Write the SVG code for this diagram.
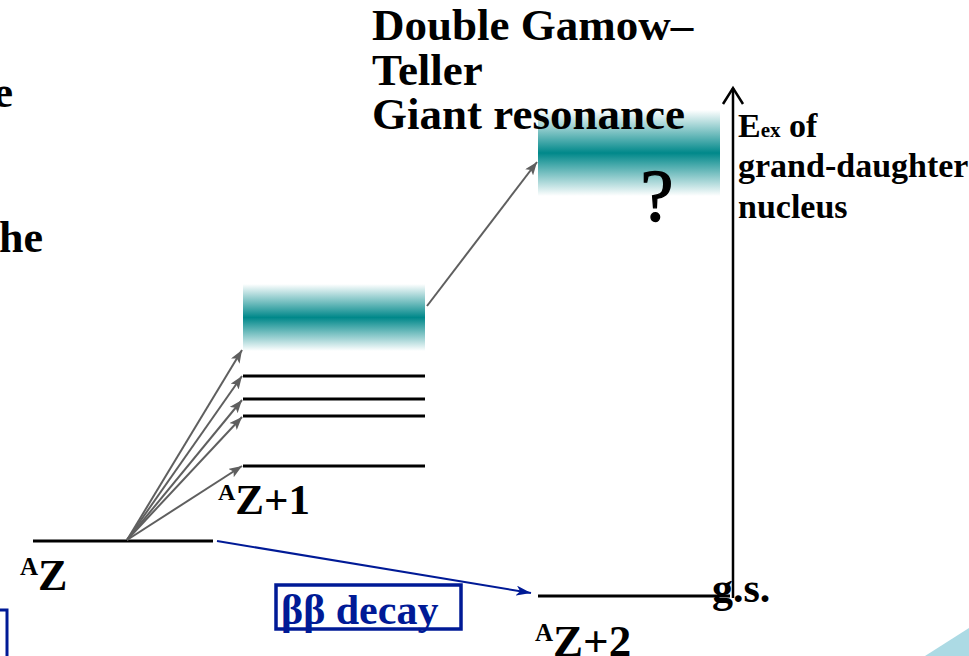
<svg xmlns="http://www.w3.org/2000/svg" width="969" height="656" viewBox="0 0 969 656">
<style>
.t{font-family:"Liberation Serif","Times New Roman",serif;font-weight:bold;fill:#000}
.lv{stroke:#000;stroke-width:3;fill:none}
.g{stroke:#5f5f5f;stroke-width:2;fill:none;marker-end:url(#ga)}
.b{fill:#001a96}
</style>
<defs>
<linearGradient id="band" x1="0" y1="0" x2="0" y2="1">
<stop offset="0" stop-color="#ffffff"/>
<stop offset="0.5" stop-color="#00888a"/>
<stop offset="1" stop-color="#ffffff"/>
</linearGradient>
<marker id="ga" markerUnits="userSpaceOnUse" markerWidth="14" markerHeight="10" refX="13" refY="5" orient="auto">
<path d="M0,0 L13,5 L0,10 L3,5 z" fill="#5f5f5f"/>
</marker>
<marker id="ba" markerUnits="userSpaceOnUse" markerWidth="16" markerHeight="10" refX="15" refY="5" orient="auto">
<path d="M0,0 L15,5 L0,10 L4,5 z" fill="#001a96"/>
</marker>
</defs>
<rect width="969" height="656" fill="#fff"/>
<polygon points="925,656 969,628 969,656" fill="#acdae4"/>
<g id="cut-text">
<text class="t" x="13" y="107" font-size="44" text-anchor="end">e</text>
<text class="t" x="43" y="252" font-size="44" text-anchor="end">he</text>
</g>
<g id="left-box"><rect x="-50" y="610" width="57" height="100" fill="none" stroke="#001a96" stroke-width="3"/></g>
<g id="band-dgt">
<rect x="538" y="110" width="182" height="86" fill="url(#band)"/>
<text x="657" y="221" font-family="Liberation Serif, Times New Roman, serif" font-size="74" text-anchor="middle" fill="#000" stroke="#000" stroke-width="1.3">?</text>
</g>
<g id="title">
<text class="t" font-size="45"><tspan x="372" y="40">Double Gamow–</tspan><tspan x="372" y="85">Teller</tspan><tspan x="372" y="129">Giant resonance</tspan></text>
</g>
<g id="band-gt"><rect x="243" y="284" width="182" height="67" fill="url(#band)"/></g>
<g id="level-AZ1">
<line class="lv" x1="243" y1="376" x2="425" y2="376" stroke-width="2.5"/>
<line class="lv" x1="243" y1="399" x2="425" y2="399" stroke-width="2.5"/>
<line class="lv" x1="243" y1="416" x2="425" y2="416" stroke-width="2.5"/>
<line class="lv" x1="243" y1="466" x2="425" y2="466"/>
<text class="t" x="218" y="514" font-size="43"><tspan font-size="24" dy="-14">A</tspan><tspan dy="14">Z+1</tspan></text>
</g>
<g id="level-AZ">
<line class="lv" x1="33" y1="541" x2="213" y2="541"/>
<text class="t" x="20" y="590" font-size="44"><tspan font-size="25" dy="-15">A</tspan><tspan dy="15">Z</tspan></text>
</g>
<g id="level-AZ2">
<line class="lv" x1="538" y1="596" x2="730" y2="596"/>
<text class="t" x="535" y="656" font-size="45"><tspan font-size="25" dy="-15">A</tspan><tspan dy="15">Z+2</tspan></text>
<text class="t" x="712" y="602" font-size="42">g.s.</text>
</g>
<g id="axis">
<line x1="733" y1="88" x2="733" y2="598" stroke="#000" stroke-width="2.5"/>
<polyline points="723,104 733,88 743,104" fill="none" stroke="#000" stroke-width="2.5"/>
<text class="t" x="738" y="137" font-size="34">E<tspan font-size="21">ex</tspan> of</text>
<text class="t" x="738" y="177" font-size="34">grand-daughter</text>
<text class="t" x="738" y="218" font-size="34">nucleus</text>
</g>
<g id="bb-decay">
<rect x="276" y="585" width="185" height="44" fill="#fff" stroke="#001a96" stroke-width="3.5"/>
<text x="281" y="624" font-family="Liberation Serif, Times New Roman, serif" font-weight="bold" font-size="42" class="b">ββ decay</text>
</g>
<g id="connectors">
<line class="g" x1="127" y1="540" x2="242" y2="350"/>
<line class="g" x1="127" y1="540" x2="242" y2="376"/>
<line class="g" x1="127" y1="540" x2="242" y2="400"/>
<line class="g" x1="127" y1="540" x2="242" y2="417"/>
<line class="g" x1="127" y1="540" x2="242" y2="466"/>
<line class="g" x1="427" y1="306" x2="537" y2="162"/>
<line x1="217" y1="541" x2="531" y2="593" stroke="#001a96" stroke-width="2" marker-end="url(#ba)"/>
</g>
</svg>
